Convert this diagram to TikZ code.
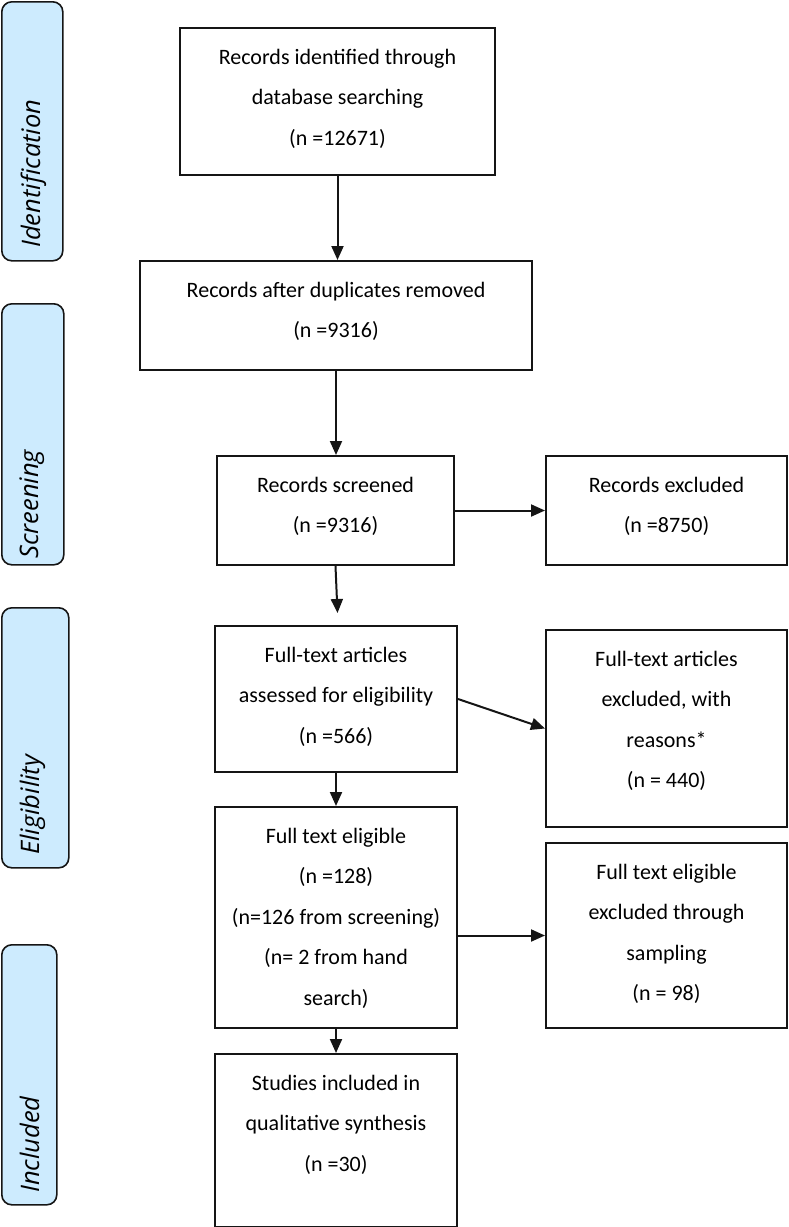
\documentclass[tikz,border=0pt]{standalone}
\usepackage{fontspec}
\setmainfont{Carlito}
\newfontfamily\sidefont{Open Sans}
\usetikzlibrary{arrows.meta}
\definecolor{sideblue}{HTML}{CDEBFE}
\definecolor{edge}{HTML}{151515}
\newcommand{\boxtxt}[3]{\parbox[c][#2][t]{#1}{\centering\fontsize{22}{40.5}\selectfont\rule{0pt}{36pt}#3}}
\tikzset{
  box/.style={draw=edge, line width=2pt, inner sep=0pt, anchor=north west},
  side/.style={draw=edge, fill=sideblue, line width=1.6pt, rounded corners=10pt, inner sep=0pt, anchor=north west},
  sidelabel/.style={font=\sidefont\itshape\fontsize{25.5}{30}\selectfont, rotate=90, anchor=base west, inner sep=0pt},
  arr/.style={draw=edge, line width=2pt, -{Triangle[length=14pt,width=12pt]}},
}
\begin{document}
\begin{tikzpicture}[x=1pt,y=-1pt]
\useasboundingbox (0,0) rectangle (788,1227);
% phase boxes
\node[side, minimum width=61pt, minimum height=259pt] (sI) at (1,1) {};
\node[sidelabel] (tI) at (40,248) {Identification};
\node[side, minimum width=62pt, minimum height=261pt] (sS) at (1,303) {};
\node[sidelabel] (tS) at (38,559) {Screening};
\node[side, minimum width=67pt, minimum height=260pt] (sE) at (1,607) {};
\node[sidelabel] (tE) at (39,855) {Eligibility};
\node[side, minimum width=55pt, minimum height=260pt] (sN) at (1,944) {};
\node[sidelabel] (tN) at (39,1193) {Included};
% flow boxes
\node[box] (idA) at (179,27) {\boxtxt{315pt}{147pt}{Records identified through\\database searching\\(n =12671)}};
\node[box] (dup) at (139,260) {\boxtxt{392pt}{109pt}{Records after duplicates removed\\(n =9316)}};
\node[box] (scr) at (216,455) {\boxtxt{237pt}{109pt}{Records screened\\(n =9316)}};
\node[box] (excl) at (545,455) {\boxtxt{241pt}{109pt}{Records excluded\\(n =8750)}};
\node[box] (full) at (214,625) {\boxtxt{242pt}{146pt}{Full-text articles\\assessed for eligibility\\(n =566)}};
\node[box] (fexcl) at (545,629) {\boxtxt{241pt}{197pt}{Full-text articles\\excluded, with\\reasons*\\(n = 440)}};
\node[box] (fte) at (214,806) {\boxtxt{242pt}{221pt}{Full text eligible\\(n =128)\\(n=126 from screening)\\(n= 2 from hand\\search)}};
\node[box] (fteexcl) at (545,842) {\boxtxt{241pt}{185pt}{Full text eligible\\excluded through\\sampling\\(n = 98)}};
\node[box] (stud) at (214,1053) {\boxtxt{242pt}{173pt}{Studies included in\\qualitative synthesis\\(n =30)}};
% connectors
\coordinate (scrEnd) at (337.5,613);
\draw[arr] (idA.south) -- (idA.south |- dup.north);
\draw[arr] (dup.south) -- (dup.south |- scr.north);
\draw[arr] (scr.east) -- (excl.west);
\draw[arr] (scr.south) -- (scrEnd);
\draw[arr] (full.east) -- (fexcl.west);
\draw[arr] (full.south) -- (full.south |- fte.north);
\draw[arr] (fte.east |- fteexcl.west) -- (fteexcl.west);
\draw[arr] (fte.south) -- (fte.south |- stud.north);
\end{tikzpicture}
\end{document}
